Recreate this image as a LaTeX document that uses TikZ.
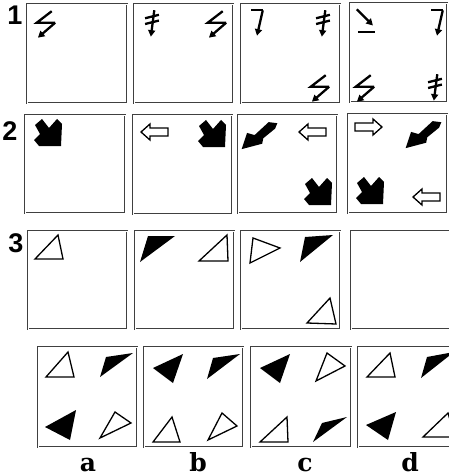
\documentclass[tikz,border=0pt]{standalone}
\usepackage{fontspec}
\setmainfont{Liberation Sans}
\newfontfamily\slabfont{DejaVu Serif Bold}
\usetikzlibrary{arrows.meta}
\tikzset{
  panel/.style={draw=black!75, double=white, double distance=0.9pt, line width=0.8pt},
  stroke/.style={line width=2.3pt},
  arr/.style={-{Triangle[length=6.5pt,width=7pt]}},
  opn/.style={draw=black, line width=1.3pt, fill=white, line join=miter},
  num/.style={font=\bfseries\fontsize{27}{27}\selectfont, inner sep=0pt},
  lab/.style={font=\slabfont\fontsize{25}{25}\selectfont, inner sep=0pt, anchor=base},
  symA/.pic={\draw[stroke] (5,-12) -- (-8,-2) -- (8,-2);
             \draw[stroke,arr] (8,-2) -- (-7,11);},
  symB/.pic={\draw[stroke,arr] (2,-12) -- (-1,11);
             \draw[stroke] (-6,-5) -- (6,-8) (-6,0) -- (6,-3);},
  symC/.pic={\draw[stroke] (-5,-11) -- (5,-11);
             \draw[stroke,arr] (5,-11) -- (0,11);},
  symD/.pic={\draw[stroke,arr] (-8,-11) -- (6,3);
             \draw[stroke] (-7,9) -- (8,9);},
  symE/.pic={\fill (-6,-14) -- (1,-5) -- (9,-14) -- (14,-9) -- (13,13) -- (-9,13) -- (-14,7) -- (-8,1) -- (-13,-8) -- cycle;},
  symF/.pic={\fill (-17,14) -- (-12,-1) -- (-5,1) -- (8,-11) -- (16,-10) -- (14,-5) -- (3,4) -- (2,9) -- cycle;},
  symG/.pic={\draw[opn] (-14,0) -- (-5,-8) -- (-5,-4) -- (13,-4) -- (13,4) -- (-5,4) -- (-5,8) -- cycle;},
}
\begin{document}
\begin{tikzpicture}[x=1pt,y=-1pt]
\useasboundingbox (0,0) rectangle (449,476);
\clip (0,0) rectangle (449,476);
% row labels
\node[num] (n1) at (15,15) {1};
\node[num] (n2) at (10,131) {2};
\node[num] (n3) at (16,243) {3};
% row 1
\draw[panel] (27,4) rectangle (127,103);
\draw[panel] (134,4) rectangle (233,103);
\draw[panel] (241,4) rectangle (340,103);
\draw[panel] (350,3) rectangle (447,102);
\pic[scale=1.15] at (46,25) {symA};
\pic[scale=1.15] at (152,24) {symB};
\pic[scale=1.15] at (217,25) {symA};
\pic[scale=1.15] at (257,23) {symC};
\pic[scale=1.15] at (323,24) {symB};
\pic[scale=1.15] at (320,89) {symA};
\pic[scale=1.15] at (366,22) {symD};
\pic[scale=1.15] at (437,23) {symC};
\pic[scale=1.15] at (365,89) {symA};
\pic[scale=1.15] at (435,88) {symB};
% row 2
\draw[panel] (25,115) rectangle (125,213);
\draw[panel] (133,115) rectangle (232,214);
\draw[panel] (238,115) rectangle (337,213);
\draw[panel] (348,114) rectangle (447,213);
\pic at (48,133) {symE};
\pic at (155,132) {symG};
\pic at (212,134) {symE};
\pic[scale=1.08] at (260,134) {symF};
\pic at (313,132) {symG};
\pic at (318,192) {symE};
\pic[xscale=-1] at (368,127) {symG};
\pic[scale=1.08] at (424,133) {symF};
\pic at (370,191) {symE};
\pic at (427,197) {symG};
% row 3
\draw[panel] (28,231) rectangle (127,329);
\draw[panel] (135,231) rectangle (234,329);
\draw[panel] (241,231) rectangle (340,329);
\draw[panel] (351,231) rectangle (452,329);
\draw[opn] (58,235) -- (35,259) -- (63,259) -- cycle;
\fill (140,262) -- (148,236) -- (175,236) -- cycle;
\draw[opn] (227,235) -- (199,261) -- (228,261) -- cycle;
\draw[opn] (253,238) -- (280,248) -- (250,263) -- cycle;
\fill (300,262) -- (305,237) -- (333,235) -- cycle;
\draw[opn] (330,298) -- (336,324) -- (307,323) -- cycle;
% answers
\draw[panel] (38,347) rectangle (137,447);
\draw[panel] (144,347) rectangle (243,447);
\draw[panel] (251,347) rectangle (351,447);
\draw[panel] (358,347) rectangle (458,447);
% a
\draw[opn] (68,352) -- (46,377) -- (74,377) -- cycle;
\fill (100,377) -- (106,357) -- (133,353) -- cycle;
\fill (76,410) -- (45,427) -- (70,440) -- cycle;
\draw[opn] (115,412) -- (131,423) -- (100,438) -- cycle;
% b
\fill (183,354) -- (153,368) -- (173,383) -- cycle;
\fill (240,354) -- (207,379) -- (213,358) -- cycle;
\draw[opn] (172,417) -- (180,442) -- (153,442) -- cycle;
\draw[opn] (222,413) -- (237,426) -- (208,440) -- cycle;
% c
\fill (290,354) -- (260,368) -- (280,383) -- cycle;
\draw[opn] (327,353) -- (345,366) -- (316,381) -- cycle;
\draw[opn] (287,417) -- (288,442) -- (260,442) -- cycle;
\fill (347,417) -- (313,442) -- (322,423) -- cycle;
% d
\draw[opn] (390,353) -- (367,377) -- (395,377) -- cycle;
\fill (421,378) -- (427,357) -- (454,352) -- cycle;
\fill (396,412) -- (366,425) -- (388,440) -- cycle;
\draw[opn] (448,413) -- (423,437) -- (455,437) -- cycle;
% option letters
\node[lab] (la) at (88,471) {a};
\node[lab] (lb) at (198,471) {b};
\node[lab] (lc) at (305,471) {c};
\node[lab] (ld) at (410,471) {d};
\end{tikzpicture}
\end{document}
